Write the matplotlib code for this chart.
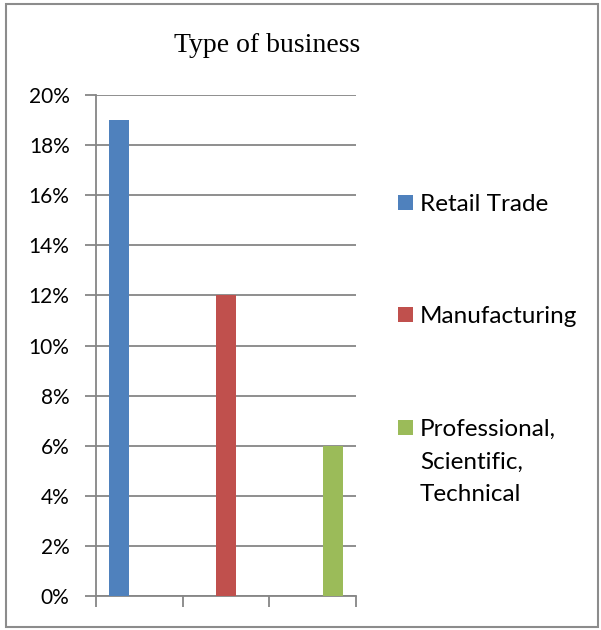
import matplotlib
matplotlib.use("Agg")
import matplotlib.pyplot as plt
from matplotlib.patches import Rectangle
from matplotlib.ticker import PercentFormatter

# Data
categories = ["Retail Trade", "Manufacturing", "Professional,\nScientific,\nTechnical"]
shares = [0.19, 0.12, 0.06]
colors = ["#4F81BD", "#C0504D", "#9BBB59"]
y_ticks = [0.00, 0.02, 0.04, 0.06, 0.08, 0.10, 0.12, 0.14, 0.16, 0.18, 0.20]

W, H = 601, 630
fig = plt.figure(figsize=(W / 100, H / 100), dpi=100)
fig.patch.set_facecolor("white")

def px(x, y):
    return x / W, 1 - y / H

# Outer chart border
fig.patches.append(Rectangle(px(6, 627), (598 - 6) / W, (627 - 4) / H,
                             transform=fig.transFigure, fill=False,
                             edgecolor="#8C8C8C", linewidth=1.5))

left, top = px(96, 95)
right, bottom = px(356, 596)
ax = fig.add_axes([left, bottom, right - left, top - bottom])

grid_col = "#868686"
n = len(categories)
bar_w = 0.23
for i, (val, col) in enumerate(zip(shares, colors)):
    offset = (i - (n - 1) / 2) * bar_w
    ax.bar(i + offset, val, width=bar_w, color=col, zorder=3, label=categories[i])

ax.set_xlim(-0.5, n - 0.5)
ax.set_ylim(0, 0.20)
ax.set_yticks(y_ticks)
ax.yaxis.set_major_formatter(PercentFormatter(1.0, decimals=0))
ax.set_xticks([k - 0.5 for k in range(n + 1)])
ax.set_xticklabels([])
ax.grid(axis="y", color=grid_col, linewidth=1.3, zorder=0)
ax.set_axisbelow(True)
for s in ["top", "right"]:
    ax.spines[s].set_visible(False)
for s in ["left", "bottom"]:
    ax.spines[s].set_color(grid_col)
    ax.spines[s].set_linewidth(1.3)
ax.tick_params(axis="both", direction="out", length=8, width=1.3, color=grid_col)
ax.tick_params(axis="y", pad=11, labelsize=15, labelcolor="black")
for lab in ax.get_yticklabels():
    lab.set_fontfamily("Lato")

# Title
tx, ty = px(267, 46)
fig.text(tx, ty, "Type of business", ha="center", va="center",
         fontsize=20, family="Liberation Serif")

# Legend
legend_baselines = [211, 323, 436]
line_step = 32.5
for label, col, yb in zip(categories, colors, legend_baselines):
    x0, y0 = px(398, yb - 1)
    fig.patches.append(Rectangle((x0, y0), 15 / W, 15 / H,
                                 transform=fig.transFigure,
                                 facecolor=col, edgecolor="none"))
    for k, line in enumerate(label.split("\n")):
        lx, ly = px(420, yb + k * line_step)
        fig.text(lx, ly, line, ha="left", va="baseline", fontsize=17.5,
                 family="Lato")

fig.savefig("out.png", dpi=100)
